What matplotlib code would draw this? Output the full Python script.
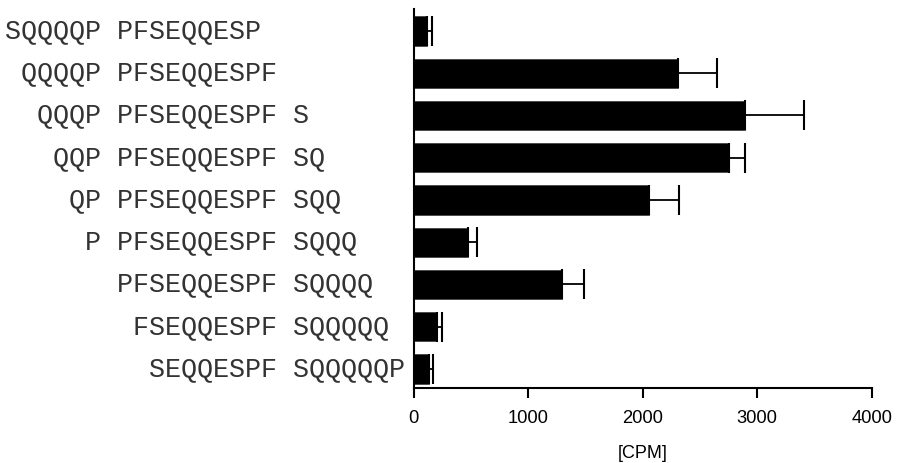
import matplotlib
matplotlib.use("Agg")
import matplotlib.pyplot as plt
from matplotlib.transforms import blended_transform_factory

labels = [
    "SQQQQP PFSEQQESP",
    " QQQQP PFSEQQESPF",
    "  QQQP PFSEQQESPF S",
    "   QQP PFSEQQESPF SQ",
    "    QP PFSEQQESPF SQQ",
    "     P PFSEQQESPF SQQQ",
    "       PFSEQQESPF SQQQQ",
    "        FSEQQESPF SQQQQQ",
    "         SEQQESPF SQQQQQP",
]
values = [115, 2306, 2897, 2758, 2059, 480, 1300, 202, 138]
errors = [43, 342, 513, 133, 258, 70, 191, 43, 34]
xticks = [0, 1000, 2000, 3000, 4000]
xlabel = "[CPM]"

fig = plt.figure(figsize=(8.97, 4.63), dpi=100)
ax = fig.add_axes([413.5 / 897, 1 - 388 / 463, (871.7 - 413.5) / 897, (388 - 9) / 463])

n = len(labels)
ypos = [n - 1 - i for i in range(n)]
ax.barh(ypos, values, height=0.69, color="black", edgecolor="#444444", linewidth=0.6,
        xerr=[[0] * n, errors], error_kw=dict(ecolor="black", elinewidth=1.3, capsize=10.5, capthick=1.5),
        zorder=2)

ax.set_xlim(0, 4000)
ax.set_ylim(-0.45, n - 1 + 0.52)
ax.set_xticks(xticks)
ax.set_xticklabels([str(t) for t in xticks], fontsize=13.2, family="Liberation Sans")
ax.set_yticks([])
for s in ["top", "right"]:
    ax.spines[s].set_visible(False)
for s in ["left", "bottom"]:
    ax.spines[s].set_linewidth(1.5)
ax.tick_params(axis="x", direction="out", length=7.5, width=1.5, pad=8.5)
ax.set_xlabel(xlabel, fontsize=13, family="Liberation Sans", labelpad=13)

trans = blended_transform_factory(fig.transFigure, ax.transData)
for lab, y in zip(labels, ypos):
    ax.text(5 / 897, y, lab, transform=trans, ha="left", va="center",
            family="Liberation Mono", fontsize=19.25, color="#333333")

fig.savefig("out.png", dpi=100)
